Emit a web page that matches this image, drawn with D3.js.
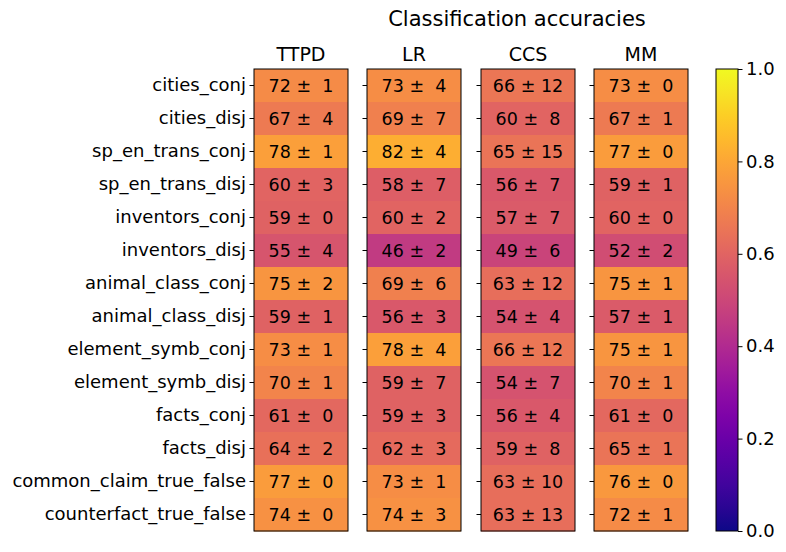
<!DOCTYPE html>
<html>
<head>
<meta charset="utf-8">
<script src="https://cdn.jsdelivr.net/npm/d3@7"></script>
<style>
  body { margin: 0; background: #fff; }
  text { font-family: "DejaVu Sans", sans-serif; fill: #000; }
</style>
</head>
<body>
<svg width="786" height="552"></svg>
<script>
const datasets = ["cities_conj", "cities_disj", "sp_en_trans_conj", "sp_en_trans_disj",
  "inventors_conj", "inventors_disj", "animal_class_conj", "animal_class_disj",
  "element_symb_conj", "element_symb_disj", "facts_conj", "facts_disj",
  "common_claim_true_false", "counterfact_true_false"];

const methods = ["TTPD", "LR", "CCS", "MM"];

const ttpdMean = [72, 67, 78, 60, 59, 55, 75, 59, 73, 70, 61, 64, 77, 74];
const ttpdStd  = [1, 4, 1, 3, 0, 4, 2, 1, 1, 1, 0, 2, 0, 0];
const lrMean   = [73, 69, 82, 58, 60, 46, 69, 56, 78, 59, 59, 62, 73, 74];
const lrStd    = [4, 7, 4, 7, 2, 2, 6, 3, 4, 7, 3, 3, 1, 3];
const ccsMean  = [66, 60, 65, 56, 57, 49, 63, 54, 66, 54, 56, 59, 63, 63];
const ccsStd   = [12, 8, 15, 7, 7, 6, 12, 4, 12, 7, 4, 8, 10, 13];
const mmMean   = [73, 67, 77, 59, 60, 52, 75, 57, 75, 70, 61, 65, 76, 72];
const mmStd    = [0, 1, 0, 1, 0, 2, 1, 1, 1, 1, 0, 1, 0, 1];

const colorTicks = [0, 0.2, 0.4, 0.6, 0.8, 1.0];

const means = [ttpdMean, lrMean, ccsMean, mmMean];
const stds = [ttpdStd, lrStd, ccsStd, mmStd];

const svg = d3.select("svg");
const plotTop = 69, plotBottom = 531;
const panelLeft = [254, 367, 481, 594];
const panelWidth = 94;
const fs = "18px";

const color = d3.scaleSequential(d3.interpolatePlasma).domain([0, 1]);

const y = d3.scaleBand().domain(datasets).range([plotTop, plotBottom]);

// TITLE
svg.append("text")
    .attr("x", 517)
    .attr("y", 26)
    .attr("text-anchor", "middle")
    .attr("font-size", "21px")
    .text("Classification accuracies");

// "%2d" padding: two spaces are as wide as one figure space
const cellLabel = (m, s) => `${m} ±${s < 10 ? "\u2007" : " "}${s}`;

methods.forEach((m, k) => {
    const x0 = panelLeft[k];
    const g = svg.append("g");

    g.selectAll("rect.cell")
        .data(datasets)
        .enter()
        .append("rect")
        .attr("class", "cell")
        .attr("x", x0)
        .attr("y", d => y(d))
        .attr("width", panelWidth)
        .attr("height", y.bandwidth() + 0.5)
        .attr("fill", (d, i) => color(means[k][i] / 100));

    g.selectAll("text.val")
        .data(datasets)
        .enter()
        .append("text")
        .attr("class", "val")
        .attr("x", x0 + panelWidth / 2)
        .attr("y", d => y(d) + y.bandwidth() / 2)
        .attr("dy", "0.35em")
        .attr("text-anchor", "middle")
        .attr("font-size", "17.5px")
        .text((d, i) => cellLabel(means[k][i], stds[k][i]));

    // frame
    g.append("rect")
        .attr("x", x0)
        .attr("y", plotTop)
        .attr("width", panelWidth)
        .attr("height", plotBottom - plotTop)
        .attr("fill", "none")
        .attr("stroke", "#000")
        .attr("stroke-width", 1);

    // y axis
    const axis = d3.axisLeft(y).tickSize(4.5).tickPadding(3.5);
    if (k > 0) axis.tickFormat("");
    const ag = g.append("g")
        .attr("transform", `translate(${x0},0)`)
        .call(axis);
    ag.select(".domain").remove();
    ag.selectAll("text").attr("font-size", fs).attr("font-family", "DejaVu Sans, sans-serif");

    g.append("text")
        .attr("x", x0 + panelWidth / 2)
        .attr("y", 61)
        .attr("text-anchor", "middle")
        .attr("font-size", "19px")
        .text(m);
});

// COLORBAR
const cbX = 716, cbW = 22;
const defs = svg.append("defs");
const grad = defs.append("linearGradient")
    .attr("id", "cb")
    .attr("x1", 0).attr("y1", 1).attr("x2", 0).attr("y2", 0);
d3.range(0, 1.0001, 0.05).forEach(t => {
    grad.append("stop").attr("offset", t).attr("stop-color", color(t));
});
svg.append("rect")
    .attr("x", cbX)
    .attr("y", plotTop)
    .attr("width", cbW)
    .attr("height", plotBottom - plotTop)
    .attr("fill", "url(#cb)")
    .attr("stroke", "#000")
    .attr("stroke-width", 1);

const cbScale = d3.scaleLinear().domain([0, 1]).range([plotBottom, plotTop]);
const cbAxis = svg.append("g")
    .attr("transform", `translate(${cbX + cbW},0)`)
    .call(d3.axisRight(cbScale).tickValues(colorTicks).tickFormat(d3.format(".1f")).tickSize(4.5).tickPadding(3.5));
cbAxis.select(".domain").remove();
cbAxis.selectAll("text").attr("font-size", fs).attr("font-family", "DejaVu Sans, sans-serif");
</script>
</body>
</html>
